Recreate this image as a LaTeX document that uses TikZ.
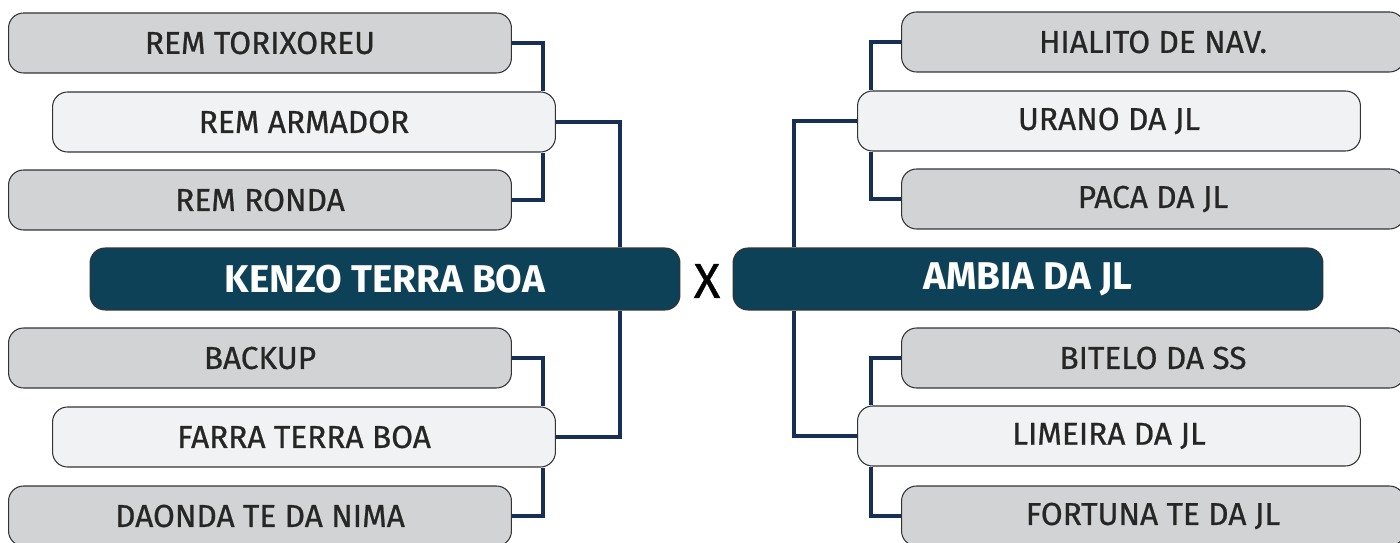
\documentclass[tikz,border=0pt]{standalone}
\usepackage{fontspec}
\setmainfont{Fira Sans}
\newfontfamily\seedfont[FakeBold=0.7]{Fira Sans}
\begin{document}
\begin{tikzpicture}[x=0.02cm,y=-0.02cm,
  seed/.style={draw=black!80,line width=0.6pt,fill=seedgray,rounded corners=0.3cm,
    minimum width=10.06cm,minimum height=1.2cm,inner sep=0pt,font=\seedfont\fontsize{18}{18}\selectfont\color{black!85}},
  winner/.style={seed,fill=winnergray},
  final/.style={draw=black!80,line width=0.6pt,fill=header,rounded corners=0.3cm,
    minimum width=11.8cm,minimum height=1.24cm,inner sep=0pt,font=\fontsize{22}{22}\selectfont\bfseries\color{white}},
  link/.style={draw=linkblue,line width=2.8pt}]
\definecolor{seedgray}{HTML}{D1D3D4}
\definecolor{winnergray}{HTML}{F1F2F3}
\definecolor{header}{HTML}{0C4157}
\definecolor{linkblue}{HTML}{172E55}
\useasboundingbox (0,0) rectangle (1400,543);
%\draw[step=100,gray,very thin] (0,0) grid (1400,543); %background grid

\coordinate (jl) at (543,0);
\coordinate (jm) at (620,0);
\coordinate (jn) at (794,0);
\coordinate (jr) at (871,0);

% left side
\node[seed]   (tor) at (260,43)  {REM TORIXOREU};
\node[winner] (arm) at (304,122) {REM ARMADOR};
\node[seed]   (ron) at (260,200) {REM RONDA};
\node[final]  (ken) at (385,279) {KENZO TERRA BOA};
\node[seed]   (bac) at (260,358) {BACKUP};
\node[winner] (far) at (304,437) {FARRA TERRA BOA};
\node[seed]   (dao) at (260,516) {DAONDA TE DA NIMA};

\node[font=\seedfont\fontsize{28}{28}\selectfont] (vs) at (707,281) {X};

% right side
\node[seed]   (hia) at (1153,42)  {HIALITO DE NAV.};
\node[winner] (ura) at (1109,121) {URANO DA JL};
\node[seed]   (pac) at (1153,199) {PACA DA JL};
\node[final]  (amb) at (1028,279) {AMBIA DA JL};
\node[seed]   (bit) at (1153,358) {BITELO DA SS};
\node[winner] (lim) at (1109,436) {LIMEIRA DA JL};
\node[seed]   (for) at (1153,516) {FORTUNA TE DA JL};

%--------------------------------------------------------

\draw[link] (tor.east) -| (arm.north -| jl);
\draw[link] (ron.east) -| (arm.south -| jl);
\draw[link] (arm.east) -| (ken.north -| jm);
\draw[link] (ken.south -| jm) |- (far.east);
\draw[link] (bac.east) -| (far.north -| jl);
\draw[link] (dao.east) -| (far.south -| jl);

\draw[link] (hia.west) -| (ura.north -| jr);
\draw[link] (pac.west) -| (ura.south -| jr);
\draw[link] (ura.west) -| (amb.north -| jn);
\draw[link] (amb.south -| jn) |- (lim.west);
\draw[link] (bit.west) -| (lim.north -| jr);
\draw[link] (for.west) -| (lim.south -| jr);
\end{tikzpicture}
\end{document}
